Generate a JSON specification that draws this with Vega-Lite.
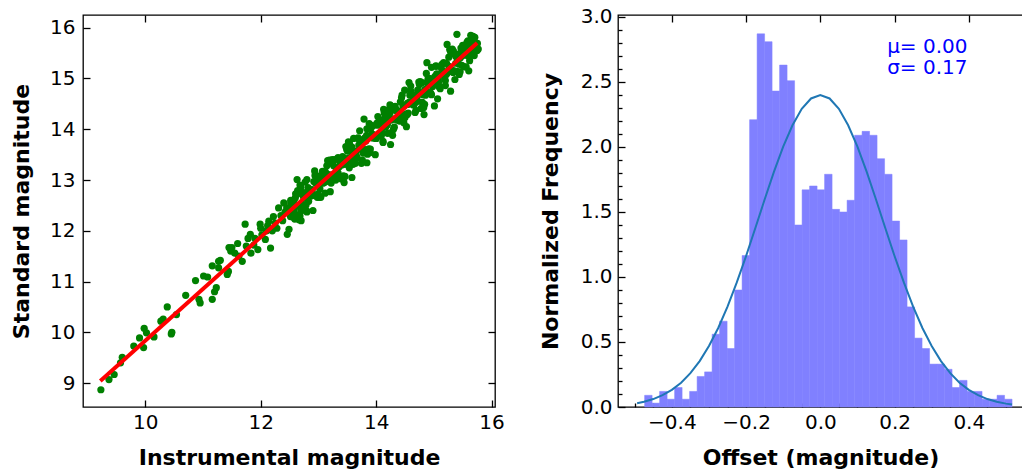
{
  "$schema": "https://vega.github.io/schema/vega-lite/v6.json",
  "padding": {"left": 9, "top": 6, "right": 0, "bottom": 0},
  "spacing": 33,
  "config": {
    "font": "DejaVu Sans",
    "view": {"stroke": "#000000", "strokeWidth": 1.3},
    "axis": {"domain": false, "grid": false, "tickColor": "#000000", "tickWidth": 1.3, "labelColor": "#000000", "labelFont": "DejaVu Sans", "labelFontSize": 20, "titleFont": "DejaVu Sans", "titleFontSize": 22, "titleFontWeight": "bold", "titleColor": "#000000", "labelFlush": false, "labelOverlap": false}
  },
  "datasets": {
    "stars": [
      {"inst":9.23,"std":8.87},{"inst":9.37,"std":9.07},{"inst":9.46,"std":9.17},{"inst":9.57,"std":9.40},{"inst":9.60,"std":9.51},{"inst":9.80,"std":9.73},{"inst":9.90,"std":9.89},{"inst":9.97,"std":9.70},{"inst":9.98,"std":10.08},{"inst":10.02,"std":9.99},{"inst":10.15,"std":9.91},{"inst":10.27,"std":10.22},{"inst":10.31,"std":10.26},{"inst":10.38,"std":10.50},{"inst":10.45,"std":9.97},{"inst":10.46,"std":10.0},{"inst":10.54,"std":10.35},{"inst":10.70,"std":10.73},{"inst":10.87,"std":11.02},{"inst":10.93,"std":10.65},{"inst":10.95,"std":10.58},{"inst":11.01,"std":11.11},{"inst":11.08,"std":11.09},{"inst":11.16,"std":10.65},{"inst":11.20,"std":10.80},{"inst":11.23,"std":10.88},{"inst":11.16,"std":11.31},{"inst":11.27,"std":11.27},{"inst":11.27,"std":11.40},{"inst":11.30,"std":11.42},{"inst":11.42,"std":11.14},{"inst":11.44,"std":11.20},{"inst":11.45,"std":11.67},{"inst":11.48,"std":11.60},{"inst":11.50,"std":11.67},{"inst":11.55,"std":11.56},{"inst":11.60,"std":11.75},{"inst":11.68,"std":11.40},{"inst":11.73,"std":12.13},{"inst":11.75,"std":11.70},{"inst":11.82,"std":11.93},{"inst":11.83,"std":11.56},{"inst":11.90,"std":11.85},{"inst":11.95,"std":11.63},{"inst":11.99,"std":12.13},{"inst":12.00,"std":12.05},{"inst":12.08,"std":11.83},{"inst":12.10,"std":12.00},{"inst":12.14,"std":12.19},{"inst":12.17,"std":11.66},{"inst":12.20,"std":12.00},{"inst":12.25,"std":12.15},{"inst":12.31,"std":12.45},{"inst":12.35,"std":12.30},{"inst":12.40,"std":12.55},{"inst":12.42,"std":12.37},{"inst":12.46,"std":11.93},{"inst":12.49,"std":12.03},{"inst":12.60,"std":12.65},{"inst":12.65,"std":12.31},{"inst":12.72,"std":12.47},{"inst":12.63,"std":13.01},{"inst":12.80,"std":12.37},
      {"inst":11.62,"std":11.50},{"inst":11.78,"std":11.85},{"inst":11.88,"std":11.72},{"inst":12.02,"std":11.92},{"inst":12.12,"std":12.10},{"inst":12.22,"std":12.28},{"inst":12.28,"std":12.05},{"inst":12.38,"std":12.20},{"inst":12.45,"std":12.45},{"inst":12.52,"std":12.60},{"inst":12.58,"std":12.50},{"inst":12.68,"std":12.90},{"inst":12.70,"std":12.20},
      {"inst":12.50,"std":12.44},{"inst":12.56,"std":12.27},{"inst":12.62,"std":12.73},{"inst":12.68,"std":12.47},{"inst":12.74,"std":12.75},{"inst":12.80,"std":12.39},{"inst":12.86,"std":12.75},{"inst":12.92,"std":12.97},{"inst":12.98,"std":12.66},{"inst":13.04,"std":13.02},{"inst":13.10,"std":12.95},{"inst":13.16,"std":13.11},{"inst":13.22,"std":12.94},{"inst":13.28,"std":13.40},{"inst":13.34,"std":13.14},{"inst":13.40,"std":13.42},{"inst":13.46,"std":13.07},{"inst":13.52,"std":13.43},{"inst":13.58,"std":13.65},{"inst":13.64,"std":13.33},{"inst":13.70,"std":13.69},{"inst":13.76,"std":13.62},{"inst":13.82,"std":13.78},{"inst":13.88,"std":13.61},{"inst":13.94,"std":14.07},{"inst":14.00,"std":13.82},{"inst":14.06,"std":14.10},{"inst":14.12,"std":13.74},{"inst":14.18,"std":14.10},{"inst":14.24,"std":14.32},{"inst":14.30,"std":14.00},{"inst":14.36,"std":14.36},{"inst":14.42,"std":14.29},{"inst":14.48,"std":14.46},{"inst":14.54,"std":14.29},{"inst":14.60,"std":14.75},{"inst":14.66,"std":14.49},{"inst":14.72,"std":14.77},{"inst":14.78,"std":14.41},{"inst":14.84,"std":14.77},{"inst":14.90,"std":14.99},{"inst":14.96,"std":14.68},{"inst":15.02,"std":15.04},{"inst":15.08,"std":14.97},{"inst":15.14,"std":15.13},{"inst":15.20,"std":14.96},{"inst":15.26,"std":15.42},{"inst":15.32,"std":15.16},{"inst":15.38,"std":15.44},{"inst":15.44,"std":15.08},{"inst":15.50,"std":15.45},{"inst":15.56,"std":15.67},{"inst":15.62,"std":15.35},{"inst":15.68,"std":15.71},{"inst":15.74,"std":15.64},
      {"inst":12.515,"std":12.28},{"inst":12.575,"std":12.61},{"inst":12.635,"std":12.50},{"inst":12.695,"std":12.86},{"inst":12.755,"std":12.45},{"inst":12.815,"std":12.77},{"inst":12.875,"std":12.69},{"inst":12.935,"std":13.18},{"inst":12.995,"std":12.73},{"inst":13.055,"std":13.08},{"inst":13.115,"std":12.74},{"inst":13.175,"std":13.09},{"inst":13.235,"std":13.33},{"inst":13.295,"std":13.08},{"inst":13.355,"std":13.41},{"inst":13.415,"std":13.30},{"inst":13.475,"std":13.66},{"inst":13.535,"std":13.24},{"inst":13.595,"std":13.56},{"inst":13.655,"std":13.48},{"inst":13.715,"std":13.97},{"inst":13.775,"std":13.53},{"inst":13.835,"std":13.88},{"inst":13.895,"std":13.54},{"inst":13.955,"std":13.89},{"inst":14.015,"std":14.12},{"inst":14.075,"std":13.87},{"inst":14.135,"std":14.20},{"inst":14.195,"std":14.09},{"inst":14.255,"std":14.46},{"inst":14.315,"std":14.04},{"inst":14.375,"std":14.36},{"inst":14.435,"std":14.28},{"inst":14.495,"std":14.77},{"inst":14.555,"std":14.32},{"inst":14.615,"std":14.67},{"inst":14.675,"std":14.33},{"inst":14.735,"std":14.69},{"inst":14.795,"std":14.92},{"inst":14.855,"std":14.67},{"inst":14.915,"std":15.00},{"inst":14.975,"std":14.89},{"inst":15.035,"std":15.25},{"inst":15.095,"std":14.83},{"inst":15.155,"std":15.15},{"inst":15.215,"std":15.08},{"inst":15.275,"std":15.57},{"inst":15.335,"std":15.12},{"inst":15.395,"std":15.47},{"inst":15.455,"std":15.13},{"inst":15.515,"std":15.48},{"inst":15.575,"std":15.71},{"inst":15.635,"std":15.46},{"inst":15.695,"std":15.79},{"inst":15.755,"std":15.69},
      {"inst":12.53,"std":12.52},{"inst":12.59,"std":12.23},{"inst":12.65,"std":12.74},{"inst":12.71,"std":12.54},{"inst":12.77,"std":12.96},{"inst":12.83,"std":12.58},{"inst":12.89,"std":12.81},{"inst":12.95,"std":12.94},{"inst":13.01,"std":12.66},{"inst":13.07,"std":13.17},{"inst":13.13,"std":12.97},{"inst":13.19,"std":13.39},{"inst":13.25,"std":13.01},{"inst":13.31,"std":13.24},{"inst":13.37,"std":13.37},{"inst":13.43,"std":13.08},{"inst":13.49,"std":13.60},{"inst":13.55,"std":13.40},{"inst":13.61,"std":13.82},{"inst":13.67,"std":13.44},{"inst":13.73,"std":13.67},{"inst":13.79,"std":13.80},{"inst":13.85,"std":13.51},{"inst":13.91,"std":14.02},{"inst":13.97,"std":13.83},{"inst":14.03,"std":14.25},{"inst":14.09,"std":13.87},{"inst":14.15,"std":14.10},{"inst":14.21,"std":14.23},{"inst":14.27,"std":13.94},{"inst":14.33,"std":14.45},{"inst":14.39,"std":14.25},{"inst":14.45,"std":14.67},{"inst":14.51,"std":14.30},{"inst":14.57,"std":14.53},{"inst":14.63,"std":14.66},{"inst":14.69,"std":14.37},{"inst":14.75,"std":14.88},{"inst":14.81,"std":14.68},{"inst":14.87,"std":15.10},{"inst":14.93,"std":14.72},{"inst":14.99,"std":14.96},{"inst":15.05,"std":15.09},{"inst":15.11,"std":14.80},{"inst":15.17,"std":15.31},{"inst":15.23,"std":15.11},{"inst":15.29,"std":15.53},{"inst":15.35,"std":15.15},{"inst":15.41,"std":15.38},{"inst":15.47,"std":15.51},{"inst":15.53,"std":15.23},{"inst":15.59,"std":15.74},{"inst":15.65,"std":15.54},{"inst":15.71,"std":15.81},{"inst":15.77,"std":15.58},
      {"inst":12.545,"std":12.39},{"inst":12.605,"std":12.73},{"inst":12.665,"std":12.22},{"inst":12.725,"std":12.73},{"inst":12.785,"std":12.51},{"inst":12.845,"std":12.81},{"inst":12.905,"std":12.40},{"inst":12.965,"std":13.02},{"inst":13.025,"std":12.83},{"inst":13.085,"std":12.94},{"inst":13.145,"std":13.28},{"inst":13.205,"std":12.77},{"inst":13.265,"std":13.28},{"inst":13.325,"std":13.06},{"inst":13.385,"std":13.36},{"inst":13.445,"std":12.95},{"inst":13.505,"std":13.57},{"inst":13.565,"std":13.38},{"inst":13.625,"std":13.49},{"inst":13.685,"std":13.83},{"inst":13.745,"std":13.33},{"inst":13.805,"std":13.83},{"inst":13.865,"std":13.61},{"inst":13.925,"std":13.91},{"inst":13.985,"std":13.50},{"inst":14.045,"std":14.12},{"inst":14.105,"std":13.93},{"inst":14.165,"std":14.04},{"inst":14.225,"std":14.39},{"inst":14.285,"std":13.88},{"inst":14.345,"std":14.38},{"inst":14.405,"std":14.16},{"inst":14.465,"std":14.46},{"inst":14.525,"std":14.05},{"inst":14.585,"std":14.67},{"inst":14.645,"std":14.48},{"inst":14.705,"std":14.59},{"inst":14.765,"std":14.94},{"inst":14.825,"std":14.43},{"inst":14.885,"std":14.93},{"inst":14.945,"std":14.71},{"inst":15.005,"std":15.01},{"inst":15.065,"std":14.60},{"inst":15.125,"std":15.22},{"inst":15.185,"std":15.03},{"inst":15.245,"std":15.14},{"inst":15.305,"std":15.49},{"inst":15.365,"std":14.98},{"inst":15.425,"std":15.48},{"inst":15.485,"std":15.26},{"inst":15.545,"std":15.56},{"inst":15.605,"std":15.15},{"inst":15.665,"std":15.77},{"inst":15.725,"std":15.58},
      {"inst":12.52,"std":12.55},{"inst":12.58,"std":12.39},{"inst":12.64,"std":12.79},{"inst":12.70,"std":12.39},{"inst":12.76,"std":12.65},{"inst":12.82,"std":12.85},{"inst":12.88,"std":12.69},{"inst":12.94,"std":13.09},{"inst":13.00,"std":12.70},{"inst":13.06,"std":12.96},{"inst":13.12,"std":13.16},{"inst":13.18,"std":13.00},{"inst":13.24,"std":13.40},{"inst":13.30,"std":13.00},{"inst":13.36,"std":13.26},{"inst":13.42,"std":13.46},{"inst":13.48,"std":13.31},{"inst":13.54,"std":13.71},{"inst":13.60,"std":13.31},{"inst":13.66,"std":13.57},{"inst":13.72,"std":13.77},{"inst":13.78,"std":13.61},{"inst":13.84,"std":14.01},{"inst":13.90,"std":13.61},{"inst":13.96,"std":13.88},{"inst":14.02,"std":14.08},{"inst":14.08,"std":13.92},{"inst":14.14,"std":14.32},{"inst":14.20,"std":13.92},{"inst":14.26,"std":14.18},{"inst":14.32,"std":14.38},{"inst":14.38,"std":14.22},{"inst":14.44,"std":14.62},{"inst":14.50,"std":14.23},{"inst":14.56,"std":14.49},{"inst":14.62,"std":14.69},{"inst":14.68,"std":14.53},{"inst":14.74,"std":14.93},{"inst":14.80,"std":14.53},{"inst":14.86,"std":14.79},{"inst":14.92,"std":14.99},{"inst":14.98,"std":14.84},{"inst":15.04,"std":15.24},{"inst":15.10,"std":14.84},{"inst":15.16,"std":15.10},{"inst":15.22,"std":15.30},{"inst":15.28,"std":15.14},{"inst":15.34,"std":15.54},{"inst":15.40,"std":15.14},{"inst":15.46,"std":15.41},{"inst":15.52,"std":15.61},{"inst":15.58,"std":15.45},{"inst":15.64,"std":15.85},{"inst":15.70,"std":15.45},
      {"inst":12.56,"std":12.35},{"inst":12.62,"std":12.71},{"inst":12.68,"std":12.29},{"inst":12.74,"std":12.67},{"inst":12.80,"std":13.01},{"inst":12.86,"std":12.73},{"inst":12.92,"std":12.71},{"inst":12.98,"std":13.08},{"inst":13.04,"std":12.66},{"inst":13.10,"std":13.04},{"inst":13.16,"std":13.38},{"inst":13.22,"std":13.10},{"inst":13.28,"std":13.08},{"inst":13.34,"std":13.44},{"inst":13.40,"std":13.02},{"inst":13.46,"std":13.41},{"inst":13.52,"std":13.75},{"inst":13.58,"std":13.47},{"inst":13.64,"std":13.45},{"inst":13.70,"std":13.81},{"inst":13.76,"std":13.39},{"inst":13.82,"std":13.77},{"inst":13.88,"std":14.11},{"inst":13.94,"std":13.83},{"inst":14.00,"std":13.82},{"inst":14.06,"std":14.18},{"inst":14.12,"std":13.76},{"inst":14.18,"std":14.14},{"inst":14.24,"std":14.48},{"inst":14.30,"std":14.20},{"inst":14.36,"std":14.18},{"inst":14.42,"std":14.54},{"inst":14.48,"std":14.13},{"inst":14.54,"std":14.51},{"inst":14.60,"std":14.85},{"inst":14.66,"std":14.57},{"inst":14.72,"std":14.55},{"inst":14.78,"std":14.91},{"inst":14.84,"std":14.49},{"inst":14.90,"std":14.87},{"inst":14.96,"std":15.22},{"inst":15.02,"std":14.94},{"inst":15.08,"std":14.92},{"inst":15.14,"std":15.28},{"inst":15.20,"std":14.86},{"inst":15.26,"std":15.24},{"inst":15.32,"std":15.58},{"inst":15.38,"std":15.30},{"inst":15.44,"std":15.28},{"inst":15.50,"std":15.65},{"inst":15.56,"std":15.23},{"inst":15.62,"std":15.61},{"inst":15.68,"std":15.83},{"inst":15.74,"std":15.67},
      {"inst":15.01,"std":14.46},{"inst":14.83,"std":14.29},{"inst":15.29,"std":14.75},{"inst":14.25,"std":13.70},{"inst":13.84,"std":13.34},{"inst":13.58,"std":13.05},{"inst":13.79,"std":14.20},{"inst":14.13,"std":14.39},{"inst":14.57,"std":14.92},{"inst":14.88,"std":15.31},{"inst":15.23,"std":15.67},{"inst":15.40,"std":15.87},{"inst":15.47,"std":15.60},{"inst":15.75,"std":15.55}
    ],
    "fit": [{"inst": 9.22, "std": 9.04}, {"inst": 15.75, "std": 15.70}],
    "hist": [
      {"lo":-0.4733,"hi":-0.4531,"freq":0.09},{"lo":-0.4531,"hi":-0.4329,"freq":0.03},{"lo":-0.4329,"hi":-0.4127,"freq":0.12},{"lo":-0.4127,"hi":-0.3925,"freq":0.06},{"lo":-0.3925,"hi":-0.3723,"freq":0.15},{"lo":-0.3723,"hi":-0.3521,"freq":0.06},{"lo":-0.3521,"hi":-0.3319,"freq":0.12},{"lo":-0.3319,"hi":-0.3117,"freq":0.235},{"lo":-0.3117,"hi":-0.2915,"freq":0.27},{"lo":-0.2915,"hi":-0.2713,"freq":0.56},{"lo":-0.2713,"hi":-0.2511,"freq":0.66},{"lo":-0.2511,"hi":-0.2309,"freq":0.45},{"lo":-0.2309,"hi":-0.2107,"freq":0.90},{"lo":-0.2107,"hi":-0.1905,"freq":1.165},{"lo":-0.1905,"hi":-0.1703,"freq":2.21},{"lo":-0.1703,"hi":-0.1501,"freq":2.87},{"lo":-0.1501,"hi":-0.1299,"freq":2.81},{"lo":-0.1299,"hi":-0.1097,"freq":2.43},{"lo":-0.1097,"hi":-0.0895,"freq":2.63},{"lo":-0.0895,"hi":-0.0693,"freq":2.51},{"lo":-0.0693,"hi":-0.0491,"freq":1.40},{"lo":-0.0491,"hi":-0.0289,"freq":1.67},{"lo":-0.0289,"hi":-0.0087,"freq":1.70},{"lo":-0.0087,"hi":0.0115,"freq":1.67},{"lo":0.0115,"hi":0.0317,"freq":1.79},{"lo":0.0317,"hi":0.0519,"freq":1.52},{"lo":0.0519,"hi":0.0721,"freq":1.50},{"lo":0.0721,"hi":0.0923,"freq":1.59},{"lo":0.0923,"hi":0.1125,"freq":2.09},{"lo":0.1125,"hi":0.1327,"freq":2.12},{"lo":0.1327,"hi":0.1529,"freq":2.09},{"lo":0.1529,"hi":0.1731,"freq":1.91},{"lo":0.1731,"hi":0.1933,"freq":1.79},{"lo":0.1933,"hi":0.2135,"freq":1.43},{"lo":0.2135,"hi":0.2337,"freq":1.285},{"lo":0.2337,"hi":0.2539,"freq":0.77},{"lo":0.2539,"hi":0.2741,"freq":0.53},{"lo":0.2741,"hi":0.2943,"freq":0.45},{"lo":0.2943,"hi":0.3145,"freq":0.33},{"lo":0.3145,"hi":0.3347,"freq":0.33},{"lo":0.3347,"hi":0.3549,"freq":0.29},{"lo":0.3549,"hi":0.3751,"freq":0.15},{"lo":0.3751,"hi":0.3953,"freq":0.205},{"lo":0.3953,"hi":0.4155,"freq":0.12},{"lo":0.4155,"hi":0.4357,"freq":0.12},{"lo":0.4357,"hi":0.4559,"freq":0.06},{"lo":0.4559,"hi":0.4761,"freq":0.06},{"lo":0.4761,"hi":0.4963,"freq":0.09},{"lo":0.4963,"hi":0.5165,"freq":0.06}
    ],
    "gauss": [
      {"off":-0.4935,"pdf":0.029},{"off":-0.475,"pdf":0.040},{"off":-0.45,"pdf":0.061},{"off":-0.425,"pdf":0.091},{"off":-0.4,"pdf":0.132},{"off":-0.375,"pdf":0.187},{"off":-0.35,"pdf":0.260},{"off":-0.325,"pdf":0.353},{"off":-0.3,"pdf":0.469},{"off":-0.275,"pdf":0.608},{"off":-0.25,"pdf":0.772},{"off":-0.225,"pdf":0.958},{"off":-0.2,"pdf":1.161},{"off":-0.175,"pdf":1.377},{"off":-0.15,"pdf":1.596},{"off":-0.125,"pdf":1.808},{"off":-0.1,"pdf":2.002},{"off":-0.075,"pdf":2.167},{"off":-0.05,"pdf":2.294},{"off":-0.025,"pdf":2.373},{"off":0,"pdf":2.400},{"off":0.025,"pdf":2.373},{"off":0.05,"pdf":2.294},{"off":0.075,"pdf":2.167},{"off":0.1,"pdf":2.002},{"off":0.125,"pdf":1.808},{"off":0.15,"pdf":1.596},{"off":0.175,"pdf":1.377},{"off":0.2,"pdf":1.161},{"off":0.225,"pdf":0.958},{"off":0.25,"pdf":0.772},{"off":0.275,"pdf":0.608},{"off":0.3,"pdf":0.469},{"off":0.325,"pdf":0.353},{"off":0.35,"pdf":0.260},{"off":0.375,"pdf":0.187},{"off":0.4,"pdf":0.132},{"off":0.425,"pdf":0.091},{"off":0.45,"pdf":0.061},{"off":0.475,"pdf":0.040},{"off":0.5,"pdf":0.026},{"off":0.5165,"pdf":0.019}
    ],
    "stats": [{"off": 0.18, "pdf": 2.72, "label": "μ= 0.00"}, {"off": 0.18, "pdf": 2.56, "label": "σ= 0.17"}]
  },
  "hconcat": [
    {
      "width": 412,
      "height": 392,
      "layer": [
        {
          "data": {"name": "stars"},
          "mark": {"type": "circle", "size": 52, "color": "#008000", "opacity": 1},
          "encoding": {
            "x": {"field": "inst", "type": "quantitative", "scale": {"domain": [8.92, 16.06], "nice": false, "zero": false},
                  "axis": {"orient": "bottom", "values": [10, 12, 14, 16], "title": "Instrumental magnitude", "tickSize": -7, "labelPadding": 12, "minExtent": 30, "maxExtent": 30, "titlePadding": 10}},
            "y": {"field": "std", "type": "quantitative", "scale": {"domain": [8.53, 16.25], "nice": false, "zero": false},
                  "axis": {"orient": "left", "values": [9, 10, 11, 12, 13, 14, 15, 16], "title": "Standard magnitude", "tickSize": -7, "labelPadding": 15, "minExtent": 32, "maxExtent": 32, "titlePadding": 18}}
          }
        },
        {
          "data": {"name": "fit"},
          "mark": {"type": "line", "color": "#ff0000", "strokeWidth": 4},
          "encoding": {
            "x": {"field": "inst", "type": "quantitative", "scale": {"domain": [8.92, 16.06], "nice": false, "zero": false},
                  "axis": {"orient": "top", "values": [10, 12, 14, 16], "labels": false, "title": null, "tickSize": -7, "minExtent": 0, "maxExtent": 0}},
            "y": {"field": "std", "type": "quantitative", "scale": {"domain": [8.53, 16.25], "nice": false, "zero": false},
                  "axis": {"orient": "right", "values": [9, 10, 11, 12, 13, 14, 15, 16], "labels": false, "title": null, "tickSize": -7, "minExtent": 0, "maxExtent": 0}}
          }
        }
      ],
      "resolve": {"axis": {"x": "independent", "y": "independent"}}
    },
    {
      "width": 405,
      "height": 392,
      "layer": [
        {
          "data": {"name": "hist"},
          "mark": {"type": "rect", "color": "#8080ff", "stroke": "#8080ff", "strokeWidth": 0.5, "opacity": 1},
          "encoding": {
            "x": {"field": "lo", "type": "quantitative", "scale": {"domain": [-0.545, 0.546], "nice": false, "zero": false},
                  "axis": {"orient": "bottom", "values": [-0.4, -0.2, 0, 0.2, 0.4], "format": ".1f", "title": "Offset (magnitude)", "tickSize": -7, "labelPadding": 12, "minExtent": 30, "maxExtent": 30, "titlePadding": 10}},
            "x2": {"field": "hi"},
            "y": {"field": "freq", "type": "quantitative", "scale": {"domain": [0, 3.015], "nice": false, "zero": false},
                  "axis": {"orient": "left", "values": [0, 0.5, 1, 1.5, 2, 2.5, 3], "format": ".1f", "title": "Normalized Frequency", "tickSize": -7, "labelPadding": 13, "minExtent": 38, "maxExtent": 38, "titlePadding": 18}},
            "y2": {"datum": 0}
          }
        },
        {
          "data": {"name": "gauss"},
          "mark": {"type": "line", "color": "#1f77b4", "strokeWidth": 2},
          "encoding": {
            "x": {"field": "off", "type": "quantitative", "scale": {"domain": [-0.545, 0.546], "nice": false, "zero": false},
                  "axis": {"orient": "top", "values": [-0.4, -0.2, 0, 0.2, 0.4], "labels": false, "title": null, "tickSize": -7, "minExtent": 0, "maxExtent": 0}},
            "y": {"field": "pdf", "type": "quantitative", "scale": {"domain": [0, 3.015], "nice": false, "zero": false}, "axis": null}
          }
        },
        {
          "data": {"name": "stats"},
          "mark": {"type": "text", "align": "left", "baseline": "alphabetic", "fontSize": 20, "color": "#0000ff", "font": "DejaVu Sans"},
          "encoding": {
            "x": {"field": "off", "type": "quantitative", "scale": {"domain": [-0.545, 0.546], "nice": false, "zero": false},
                  "axis": {"orient": "bottom", "values": [-0.5, -0.45, -0.35, -0.3, -0.25, -0.15, -0.1, -0.05, 0.05, 0.1, 0.15, 0.25, 0.3, 0.35, 0.45, 0.5], "labels": false, "title": null, "tickSize": -4, "minExtent": 0, "maxExtent": 0}},
            "y": {"field": "pdf", "type": "quantitative", "scale": {"domain": [0, 3.015], "nice": false, "zero": false},
                  "axis": {"orient": "left", "values": [0.1, 0.2, 0.3, 0.4, 0.6, 0.7, 0.8, 0.9, 1.1, 1.2, 1.3, 1.4, 1.6, 1.7, 1.8, 1.9, 2.1, 2.2, 2.3, 2.4, 2.6, 2.7, 2.8, 2.9], "labels": false, "title": null, "tickSize": -4, "minExtent": 0, "maxExtent": 0}},
            "text": {"field": "label"}
          }
        }
      ],
      "resolve": {"axis": {"x": "independent", "y": "independent"}}
    }
  ]
}
